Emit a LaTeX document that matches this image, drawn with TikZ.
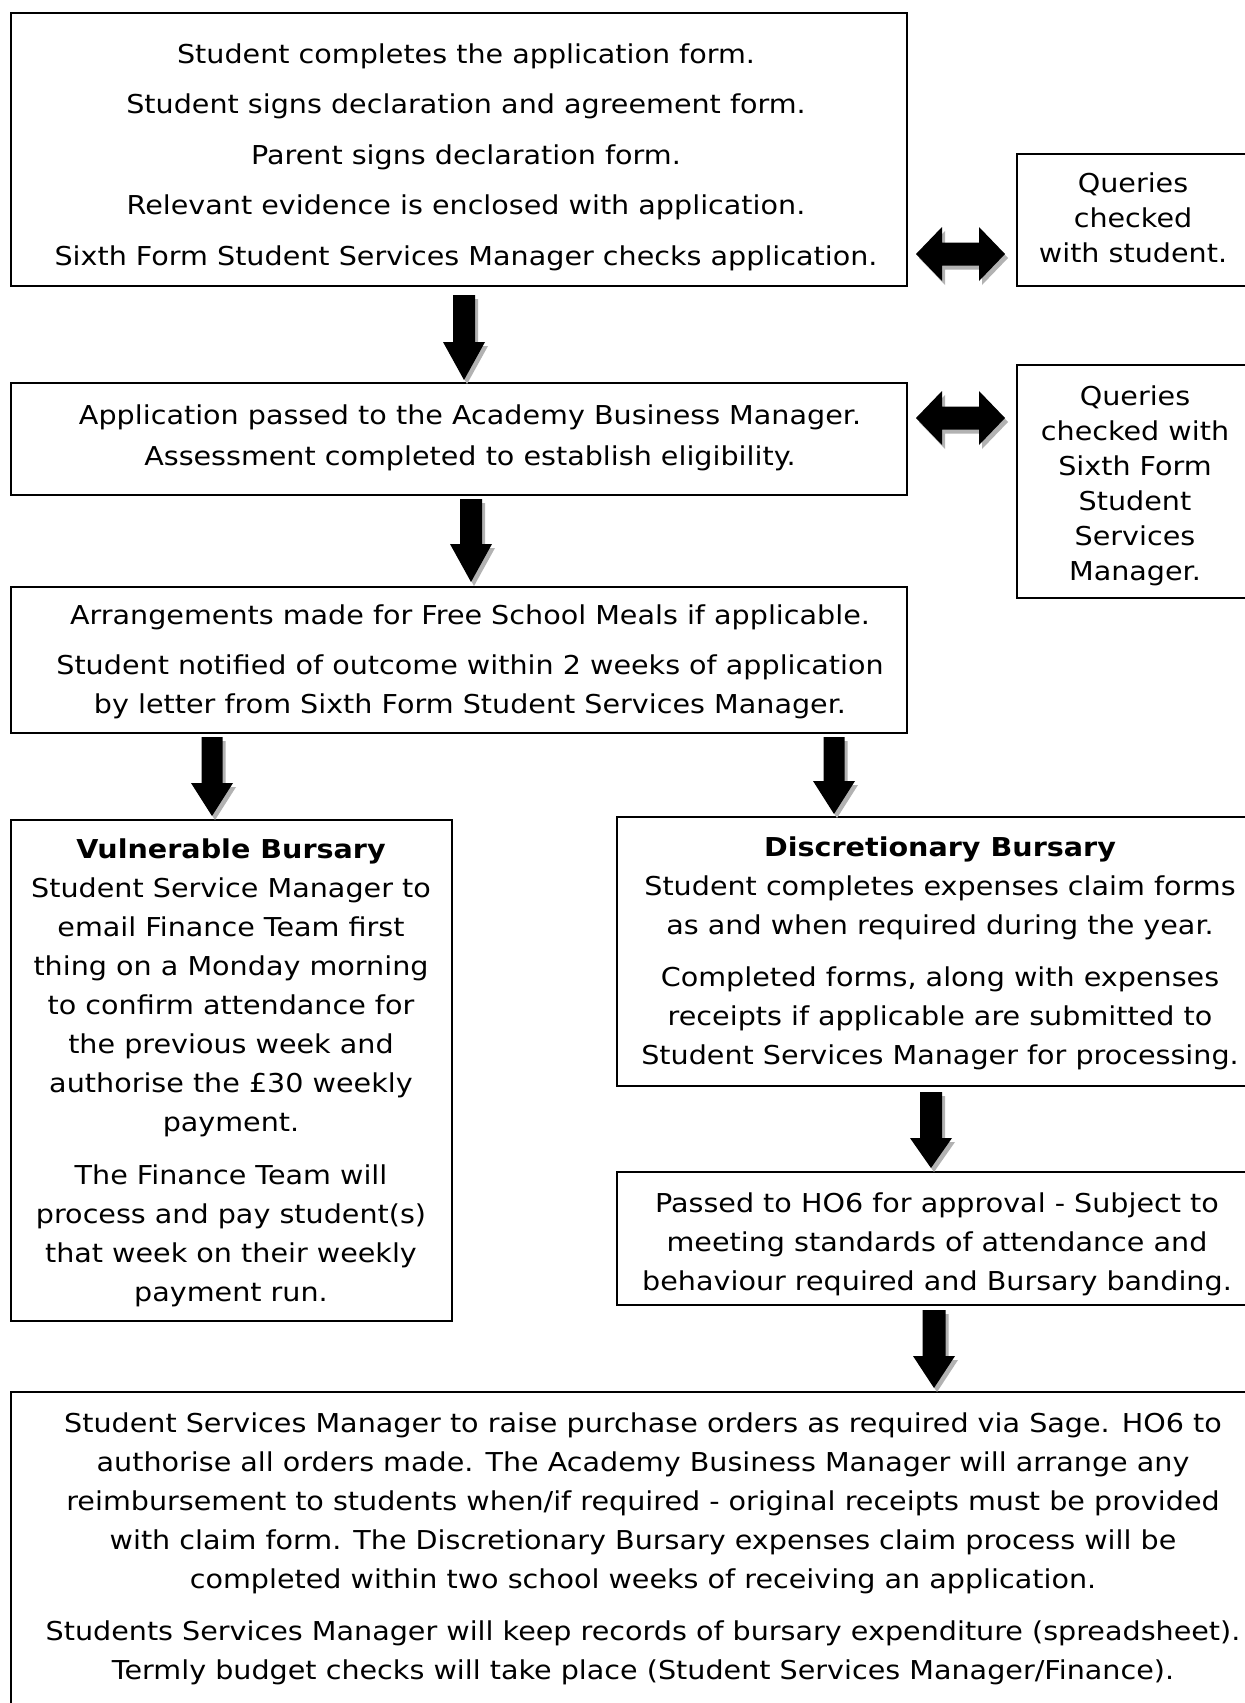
\documentclass[tikz,border=0pt]{standalone}
\usepackage{fontspec}
\setmainfont{DejaVu Sans}[FakeStretch=1.1]
\usetikzlibrary{fit}
\definecolor{shadowgray}{gray}{0.7}
\tikzset{
  box/.style={draw=black, line width=0.9pt, inner sep=0pt},
  txt/.style={align=center, inner sep=0pt, anchor=north, font=\fontsize{13}{19.5}\selectfont},
  txtwide/.style={txt, font=\fontsize{13}{25.25}\selectfont},
  txtq/.style={txt, font=\fontsize{13}{17.5}\selectfont},
}
\newcommand\fst{\rule{0pt}{10.5pt}}
% down block arrow: x centre, y top, y tip, head length, half shaft width
\newcommand\downblk[5]{%
  \foreach \dx/\dy/\shc in {3/4/shadowgray,0/0/black}{%
    \fill[color=\shc] (#1-#5+\dx,#2+\dy) -- (#1+#5+\dx,#2+\dy) -- (#1+#5+\dx,#3-#4+\dy)
      -- (#1+21+\dx,#3-#4+\dy) -- (#1+\dx,#3+\dy) -- (#1-21+\dx,#3-#4+\dy)
      -- (#1-#5+\dx,#3-#4+\dy) -- cycle;}}
% double block arrow: x left, x right, y centre, head length
\newcommand\dblblk[4]{%
  \foreach \dx/\dy/\shc in {3/4/shadowgray,0/0/black}{%
    \fill[color=\shc] (#1+\dx,#3+\dy) -- (#1+#4+\dx,#3-27+\dy) -- (#1+#4+\dx,#3-11.5+\dy)
      -- (#2-#4+\dx,#3-11.5+\dy) -- (#2-#4+\dx,#3-27+\dy) -- (#2+\dx,#3+\dy)
      -- (#2-#4+\dx,#3+27+\dy) -- (#2-#4+\dx,#3+11.5+\dy) -- (#1+#4+\dx,#3+11.5+\dy)
      -- (#1+#4+\dx,#3+27+\dy) -- cycle;}}
\begin{document}
\begin{tikzpicture}[x=0.5pt,y=-0.5pt]
\useasboundingbox (0,0) rectangle (1245,1703);
\clip (0,0) rectangle (1245,1703);
\fill[white] (0,0) rectangle (1245,1703);

% boxes
\node[box, fit={(11,13) (907,286)}] (b1) {};
\node[box, fit={(1017,154) (1249,286)}] (q1) {};
\node[box, fit={(11,383) (907,495)}] (b2) {};
\node[box, fit={(1017,365) (1249,598)}] (q2) {};
\node[box, fit={(11,587) (907,733)}] (b3) {};
\node[box, fit={(11,820) (452,1321)}] (vb) {};
\node[box, fit={(617,817) (1262,1086)}] (db) {};
\node[box, fit={(617,1172) (1257,1305)}] (ho) {};
\node[box, fit={(11,1392) (1275,1720)}] (bt) {};

% texts
\node[txtwide] (t1) at (466,42) {\fst Student completes the application form.\\
Student signs declaration and agreement form.\\
Parent signs declaration form.\\
Relevant evidence is enclosed with application.\\
Sixth Form Student Services Manager checks application.};

\node[txtq] (tq1) at (1133,171) {\fst Queries\\ checked\\ with student.};

\node[txt] (t2) at (470,403) {\fst Application passed to the Academy Business Manager.\\[1pt]
Assessment completed to establish eligibility.};

\node[txtq] (tq2) at (1135,384) {\fst Queries\\ checked with\\ Sixth Form\\ Student\\ Services\\ Manager.};

\node[txt] (t3) at (470,603) {\fst Arrangements made for Free School Meals if applicable.\\[5.5pt]
Student notified of outcome within 2 weeks of application\\
by letter from Sixth Form Student Services Manager.};

\node[txt] (tvb) at (231,837) {\fst\textbf{Vulnerable Bursary}\\
Student Service Manager to\\
email Finance Team first\\
thing on a Monday morning\\
to confirm attendance for\\
the previous week and\\
authorise the £30 weekly\\
payment.\\[7.25pt]
The Finance Team will\\
process and pay student(s)\\
that week on their weekly\\
payment run.};

\node[txt] (tdb) at (940,835) {\fst\textbf{Discretionary Bursary}\\
Student completes expenses claim forms\\
as and when required during the year.\\[6.5pt]
Completed forms, along with expenses\\
receipts if applicable are submitted to\\
Student Services Manager for processing.};

\node[txt] (tho) at (937,1191) {\fst Passed to HO6 for approval - Subject to\\
meeting standards of attendance and\\
behaviour required and Bursary banding.};

\node[txt] (tbt) at (643,1411) {\fst Student Services Manager to raise purchase orders as required via Sage. HO6 to\\
authorise all orders made. The Academy Business Manager will arrange any\\
reimbursement to students when/if required - original receipts must be provided\\
with claim form. The Discretionary Bursary expenses claim process will be\\
completed within two school weeks of receiving an application.\\[6.5pt]
Students Services Manager will keep records of bursary expenditure (spreadsheet).\\
Termly budget checks will take place (Student Services Manager/Finance).};

% block arrows
\downblk{464}{295}{380}{38}{11}
\downblk{471}{499}{582}{38}{11}
\downblk{212}{737}{816}{33}{10.5}
\downblk{834}{737}{814}{33}{10.5}
\downblk{931}{1092}{1168}{30}{11}
\downblk{934}{1310}{1388}{32}{11.5}
\dblblk{916}{1005}{254}{26}
\dblblk{916}{1005}{418}{26}
\end{tikzpicture}
\end{document}
